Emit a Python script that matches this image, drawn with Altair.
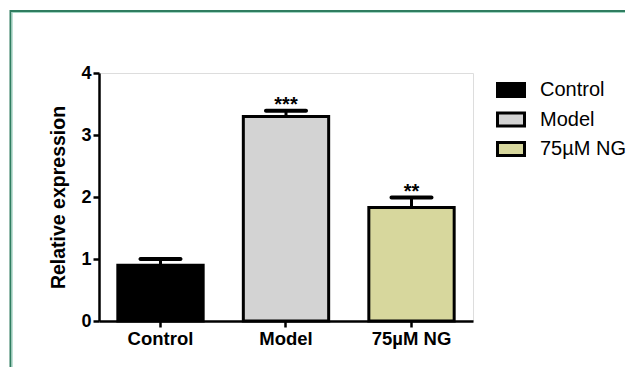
import altair as alt
import pandas as pd

groups = ["Control", "Model", "75µM NG"]
means = [0.90, 3.30, 1.83]
uppers = [1.00, 3.39, 1.99]
stars = ["", "***", "**"]
colors = ["#000000", "#d3d3d3", "#d7d79d"]

df = pd.DataFrame({"group": groups, "mean": means, "upper": uppers, "stars": stars})

FONT = "Liberation Sans"

x = alt.X("group:N", sort=groups, title=None,
          scale=alt.Scale(paddingInner=0.32, paddingOuter=0.15),
          axis=alt.Axis(labelAngle=0, labelFont=FONT, labelFontSize=18.5, labelFontWeight="bold",
                        labelColor="black", domainColor="black", domainWidth=2.5,
                        tickColor="black", tickWidth=2.5, tickSize=6, labelPadding=2))

y = alt.Y("mean:Q", title="Relative expression",
          scale=alt.Scale(domain=[0, 4], nice=False),
          axis=alt.Axis(values=[0, 1, 2, 3, 4], format="d", grid=False,
                        labelFont=FONT, labelFontSize=18, labelFontWeight="bold", labelColor="black",
                        titleFont=FONT, titleFontSize=19.5, titleFontWeight="bold", titleColor="black",
                        domainColor="black", domainWidth=2.5, tickColor="black", tickWidth=2.5,
                        tickSize=6, labelPadding=2, titlePadding=12))

rect_path = "M-1,-0.48L1,-0.48L1,0.48L-1,0.48Z"

bars = alt.Chart(df).mark_bar(stroke="black", strokeWidth=3).encode(
    x=x,
    y=y,
    fill=alt.Fill("group:N", sort=groups,
                  scale=alt.Scale(domain=groups, range=colors),
                  legend=alt.Legend(orient="none", legendX=397, legendY=2, title=None,
                                    symbolType=rect_path, symbolSize=729,
                                    symbolStrokeColor="black", symbolStrokeWidth=3,
                                    symbolOpacity=1,
                                    labelFont=FONT, labelFontSize=20, labelColor="black",
                                    labelOffset=14, rowPadding=1.5)),
)

err = alt.Chart(df).mark_rule(color="black", strokeWidth=3).encode(
    x=alt.X("group:N", sort=groups),
    y="mean:Q",
    y2="upper:Q",
)

caps = alt.Chart(df).mark_tick(color="black", size=44, thickness=4, cornerRadius=2, opacity=1).encode(
    x=alt.X("group:N", sort=groups),
    y="upper:Q",
)

txt = alt.Chart(df).mark_text(font=FONT, fontSize=20, fontWeight="bold", color="black",
                              baseline="alphabetic", dy=0).encode(
    x=alt.X("group:N", sort=groups),
    y="upper:Q",
    text="stars:N",
)

frame_dark = "#2f7d60"
frame_light = "#a3d6c4"
frame_df = pd.DataFrame({"k": [0]})
frame_top = alt.Chart(frame_df).mark_rule(color=frame_dark, strokeWidth=2).encode(
    x=alt.value(-89), x2=alt.value(526), y=alt.value(-62))
frame_top2 = alt.Chart(frame_df).mark_rule(color=frame_light, strokeWidth=1).encode(
    x=alt.value(-87), x2=alt.value(526), y=alt.value(-60.5))
frame_left = alt.Chart(frame_df).mark_rule(color=frame_dark, strokeWidth=2).encode(
    x=alt.value(-88.5), y=alt.value(-63), y2=alt.value(294))
frame_left2 = alt.Chart(frame_df).mark_rule(color=frame_light, strokeWidth=1).encode(
    x=alt.value(-86.8), y=alt.value(-61), y2=alt.value(294))

chart = alt.layer(frame_top, frame_top2, frame_left, frame_left2, bars, err, caps, txt).properties(
    width=374, height=248,
    autosize=alt.AutoSizeParams(type="none"),
    padding={"left": 91, "top": 65, "right": 153, "bottom": 52},
).configure_view(stroke=None).configure(background="white")

chart.save("out.html", embed_options={"renderer": "svg", "actions": False})
